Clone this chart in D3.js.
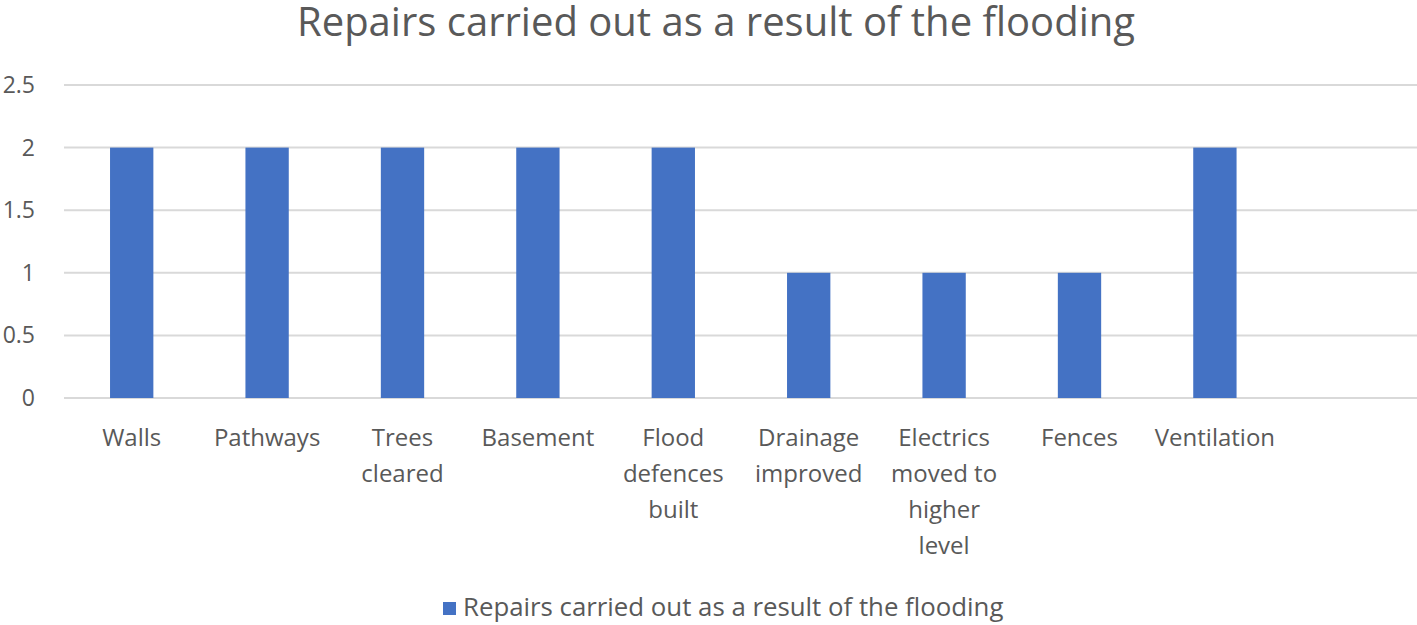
<!doctype html>
<html>
<head>
<style>
body { margin: 0; background: #fff; }
.grid line { stroke: #d9d9d9; stroke-width: 2px; }
text { fill: #595959; font-family: "Open Sans", sans-serif; }
</style>
</head>
<body>
<div id="root"></div>
<script src="https://d3js.org/d3.v7.min.js"></script>
<script>
var categories = ['Walls', 'Pathways', 'Trees cleared', 'Basement', 'Flood defences built',
	'Drainage improved', 'Electrics moved to higher level', 'Fences', 'Ventilation', ''];
var tickLines = [['Walls'], ['Pathways'], ['Trees', 'cleared'], ['Basement'], ['Flood', 'defences', 'built'],
	['Drainage', 'improved'], ['Electrics', 'moved to', 'higher', 'level'], ['Fences'], ['Ventilation'], []];
var values = [2, 2, 2, 2, 2, 1, 1, 1, 2, null];
var yTicks = [0, 0.5, 1, 1.5, 2, 2.5];
var title = 'Repairs carried out as a result of the flooding';
var seriesName = 'Repairs carried out as a result of the flooding';

var width = 1417, height = 625;
var plotLeft = 64, plotRight = 1418, plotTop = 85, plotBottom = 398;

var svg = d3.select('#root').append('svg')
	.attr('width', width)
	.attr('height', height);

var x = d3.scaleBand().domain(categories).range([plotLeft, plotRight]).paddingInner(0.68).paddingOuter(0.34);
var y = d3.scaleLinear().domain([0, 2.5]).range([plotBottom, plotTop]);

// gridlines
svg.append('g').attr('class', 'grid')
	.selectAll('line')
	.data(yTicks)
	.enter().append('line')
		.attr('x1', plotLeft).attr('x2', width)
		.attr('y1', function(d){ return y(d); })
		.attr('y2', function(d){ return y(d); });

// y labels
svg.append('g').selectAll('text')
	.data(yTicks)
	.enter().append('text')
		.attr('x', 35)
		.attr('y', function(d){ return y(d); })
		.attr('dy', '0.35em')
		.attr('text-anchor', 'end')
		.style('font-size', '23px')
		.text(function(d){ return d; });

// bars
svg.append('g').selectAll('rect')
	.data(categories.map(function(c, i){ return {c: c, v: values[i]}; }).filter(function(d){ return d.v != null; }))
	.enter().append('rect')
		.attr('x', function(d){ return x(d.c); })
		.attr('width', x.bandwidth())
		.attr('y', function(d){ return y(d.v); })
		.attr('height', function(d){ return y(0) - y(d.v); })
		.attr('fill', '#4472c4');

// x labels
var xl = svg.append('g').selectAll('text')
	.data(categories.map(function(c, i){ return {c: c, lines: tickLines[i]}; }))
	.enter().append('text')
		.attr('text-anchor', 'middle')
		.attr('transform', function(d){ return 'translate(' + (x(d.c) + x.bandwidth() / 2) + ',446)'; })
		.style('font-size', '24px');
xl.selectAll('tspan')
	.data(function(d){ return d.lines; })
	.enter().append('tspan')
		.attr('x', 0)
		.attr('y', function(d, i){ return i * 36; })
		.text(function(d){ return d; });

// title
svg.append('text')
	.attr('x', 716).attr('y', 36)
	.attr('text-anchor', 'middle')
	.style('font-size', '40px')
	.text(title);

// legend
var lg = svg.append('g').attr('transform', 'translate(443,602)');
lg.append('rect').attr('width', 13).attr('height', 13).attr('fill', '#4472c4');
lg.append('text').attr('x', 20).attr('y', 14).style('font-size', '25.8px').text(seriesName);
</script>
</body>
</html>
